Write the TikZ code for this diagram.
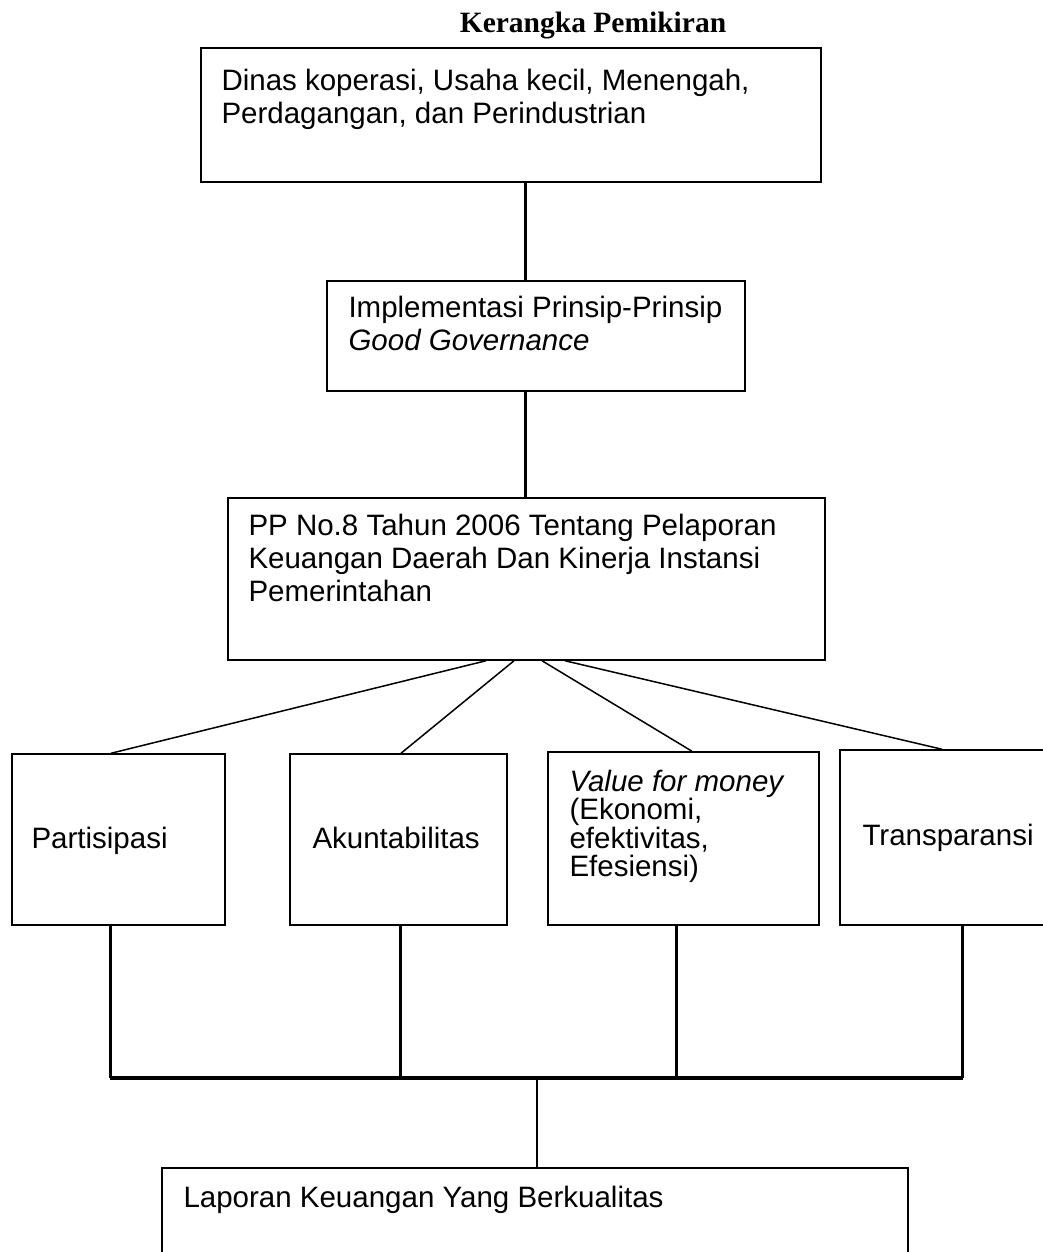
\documentclass[tikz,border=0pt]{standalone}
\usepackage{fontspec}
\setmainfont{Liberation Sans}
\newfontfamily\titlefont{Liberation Serif}
\usetikzlibrary{fit}
\newcommand\boxfont{\fontsize{11.8}{13.2}\selectfont}
\tikzset{
  box/.style={draw, line width=0.6pt, inner sep=0pt},
  txt/.style={inner sep=0pt, align=left, font=\boxfont},
  conn/.style={line width=1.2pt},
  fan/.style={line width=0.6pt},
  bus/.style={line width=1.6pt}
}
\begin{document}
\begin{tikzpicture}[x=0.4pt,y=-0.4pt]
\useasboundingbox (0,0) rectangle (1043,1252);

\node [anchor=base, inner sep=0pt, font=\titlefont\bfseries\boxfont] (judul) at (593,33) {Kerangka Pemikiran};

% kotak atas
\node [box, fit={(201,48) (821,182)}] (dinas) {};
\node [txt, anchor=north west] (dinastxt) at (221,68.5) {Dinas koperasi, Usaha kecil, Menengah,\\Perdagangan, dan Perindustrian};

\node [box, fit={(327,281) (745,391)}] (prinsip) {};
\node [txt, anchor=north west] (prinsiptxt) at (348,295.5) {Implementasi Prinsip-Prinsip\\\textit{Good Governance}};

\node [box, fit={(228,498) (825,660)}] (pp) {};
\node [txt, anchor=north west] (pptxt) at (248,513.5) {PP No.8 Tahun 2006 Tentang Pelaporan\\Keuangan Daerah Dan Kinerja Instansi\\Pemerintahan};

% empat prinsip
\node [box, fit={(12,754) (225,925)}] (partisipasi) {};
\node [txt, anchor=base west] at (31,848) {Partisipasi};

\node [box, fit={(290,754) (507,925)}] (akuntabilitas) {};
\node [txt, anchor=base west] at (312,848) {Akuntabilitas};

\node [box, fit={(548,752) (819,925)}] (value) {};
\node [txt, anchor=north west, font=\fontsize{11.8}{11.4}\selectfont] at (569,769.5) {\textit{Value for money}\\(Ekonomi,\\efektivitas,\\Efesiensi)};

\node [box, fit={(840,750) (1085,925)}] (transparansi) {};
\node [txt, anchor=base west] at (862,845) {Transparansi};

% kotak bawah
\node [box, fit={(162,1168) (908,1300)}] (laporan) {};
\node [txt, anchor=base west] at (183,1207) {Laporan Keuangan Yang Berkualitas};

\coordinate (hub) at (537,1078);

% garis penghubung
\draw [conn] ([xshift=5.6pt]dinas.south) -- ([xshift=5.6pt]dinas.south |- prinsip.north);
\draw [conn] ([xshift=-4.4pt]prinsip.south) -- ([xshift=-4.4pt]prinsip.south |- pp.north);

\draw [fan] ([xshift=-16.2pt]pp.south) -- ([xshift=-3pt]partisipasi.north);
\draw [fan] ([xshift=-5pt]pp.south) -- ([xshift=1pt]akuntabilitas.north);
\draw [fan] ([xshift=6.2pt]pp.south) -- ([xshift=3.4pt]value.north);
\draw [fan] ([xshift=15.4pt]pp.south) -- ([xshift=-8.2pt]transparansi.north);

\draw [conn] ([xshift=-3.4pt]partisipasi.south) -- ([xshift=-3.4pt]partisipasi.south |- hub);
\draw [conn] ([xshift=0.6pt]akuntabilitas.south) -- ([xshift=0.6pt]akuntabilitas.south |- hub);
\draw [conn] ([xshift=-3pt]value.south) -- ([xshift=-3pt]value.south |- hub);
\draw [conn] (transparansi.south) -- (transparansi.south |- hub);
\draw [bus] ([xshift=-3.4pt]partisipasi.south |- hub) -- (transparansi.south |- hub);
\draw [conn, line width=1pt] (hub) -- (hub |- laporan.north);
\end{tikzpicture}
\end{document}
